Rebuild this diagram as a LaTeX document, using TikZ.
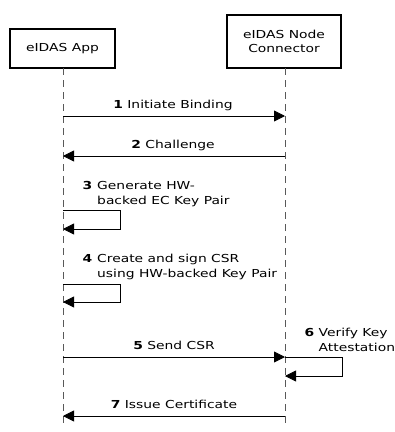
\documentclass[tikz,border=0pt]{standalone}
\usepackage{fontspec}
\setmainfont{DejaVu Sans}[FakeStretch=1.26]
\usetikzlibrary{arrows.meta}
\begin{document}
\begin{tikzpicture}[x=1pt,y=-1pt,
  actor/.style={draw,line width=1.8pt,align=center,inner sep=0pt,font=\fontsize{11}{14}\selectfont},
  life/.style={draw=black!65,dash pattern=on 7pt off 5pt,line width=0.9pt},
  msg/.style={draw,line width=0.8pt,-{Triangle[length=11pt,width=11pt]}},
  lbl/.style={font=\fontsize{11}{14}\selectfont,inner sep=0pt}]
\useasboundingbox (0,0) rectangle (395,432);
\node[actor,minimum width=105pt,minimum height=39pt] (app) at (62.5,48.5) {eIDAS App};
\node[actor,minimum width=114pt,minimum height=53pt] (con) at (284,41.5) {eIDAS Node\\Connector};
\coordinate (append) at (63,427);
\coordinate (conend) at (285,427);
\draw[life] (63,68) -- (append);
\draw[life] (285,68) -- (conend);
% 1
\coordinate (a1) at (63,116); \coordinate (c1) at (285,116);
\draw[msg] (a1) -- (c1);
\node[lbl,anchor=base] (l1) at (173,108.7) {\textbf{1} Initiate Binding};
% 2
\coordinate (c2) at (285,156); \coordinate (a2) at (63,156);
\draw[msg] (c2) -- (a2);
\node[lbl,anchor=base] (l2) at (173,148.7) {\textbf{2} Challenge};
% 3
\coordinate (a3s) at (63,210); \coordinate (a3e) at (63,229);
\draw[msg] (a3s) -- (120,210) -- (120,229) -- (a3e);
\node[lbl,anchor=base west] (l3n) at (82.5,189.3) {\textbf{3}};
\node[lbl,anchor=base west] (l3a) at (97,189.3) {Generate HW-};
\node[lbl,anchor=base west] (l3b) at (97,204.3) {backed EC Key Pair};
% 4
\coordinate (a4s) at (63,284); \coordinate (a4e) at (63,302);
\draw[msg] (a4s) -- (120,284) -- (120,302) -- (a4e);
\node[lbl,anchor=base west] (l4n) at (82.5,262.8) {\textbf{4}};
\node[lbl,anchor=base west] (l4a) at (97,262.8) {Create and sign CSR};
\node[lbl,anchor=base west] (l4b) at (97,277.8) {using HW-backed Key Pair};
% 5
\coordinate (a5) at (63,357); \coordinate (c5) at (285,357);
\draw[msg] (a5) -- (c5);
\node[lbl,anchor=base] (l5) at (174,349.7) {\textbf{5} Send CSR};
% 6
\coordinate (c6s) at (285,357); \coordinate (c6e) at (285,376);
\draw[msg] (c6s) -- (342,357) -- (342,376) -- (c6e);
\node[lbl,anchor=base west] (l6n) at (304.5,336.3) {\textbf{6}};
\node[lbl,anchor=base west] (l6a) at (318.5,336.3) {Verify Key};
\node[lbl,anchor=base west] (l6b) at (318.5,351.3) {Attestation};
% 7
\coordinate (c7) at (285,416); \coordinate (a7) at (63,416);
\draw[msg] (c7) -- (a7);
\node[lbl,anchor=base] (l7) at (174,408.7) {\textbf{7} Issue Certificate};
\end{tikzpicture}
\end{document}
